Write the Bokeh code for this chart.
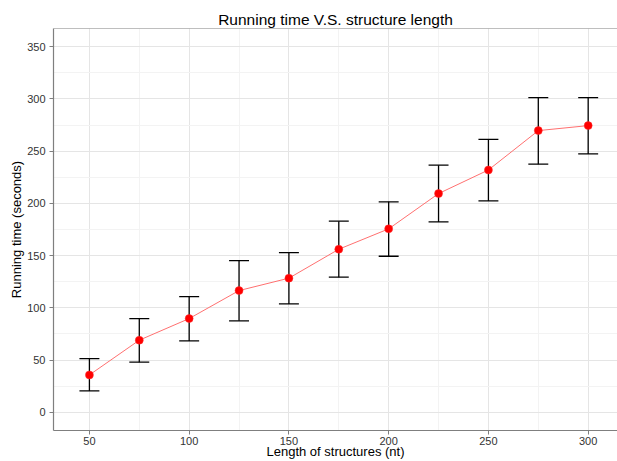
from bokeh.plotting import figure
from bokeh.models import Range1d, SingleIntervalTicker, Span
from bokeh.embed import file_html
from bokeh.resources import INLINE

# Data
lengths = [50, 75, 100, 125, 150, 175, 200, 225, 250, 275, 300]
mean_time = [35.7, 69.0, 89.7, 116.5, 128.4, 156.1, 175.6, 209.4, 232.0, 269.7, 274.5]
upper = [51.3, 89.7, 110.7, 145.2, 152.9, 183.0, 201.5, 236.6, 261.3, 301.3, 301.3]
lower = [20.4, 47.9, 68.3, 87.5, 103.7, 129.3, 149.4, 182.3, 202.4, 237.6, 247.4]
half_cap = 5  # errorbar cap half-width in data units

FONT = "Liberation Sans"

p = figure(width=617, height=461, output_backend="svg", toolbar_location=None,
           x_range=Range1d(32, 314.7), y_range=Range1d(-17.5, 367.5),
           min_border_left=53, min_border_right=0, min_border_top=28, min_border_bottom=31,
           title="Running time V.S. structure length")
p.background_fill_color = "white"
p.border_fill_color = "white"
p.outline_line_color = None

p.title.align = "center"
p.title.offset = 6
p.title.standoff = 2
p.title.text_font = FONT
p.title.text_font_size = "15.5px"
p.title.text_font_style = "normal"
p.title.text_color = "black"

# tickers
p.xaxis.ticker = SingleIntervalTicker(interval=50, num_minor_ticks=2)
p.yaxis.ticker = SingleIntervalTicker(interval=50, num_minor_ticks=2)

# grids
for g in (p.xgrid, p.ygrid):
    g.grid_line_color = "#e5e5e5"
    g.grid_line_width = 1
    g.minor_grid_line_color = "#f3f3f3"
    g.minor_grid_line_width = 1

# axes
for ax in (p.xaxis, p.yaxis):
    ax.axis_line_color = "#7f7f7f"
    ax.axis_line_width = 1.2
    ax.major_tick_line_color = "#7f7f7f"
    ax.major_tick_in = 0
    ax.major_tick_out = 4
    ax.minor_tick_line_color = None
    ax.major_label_text_font = FONT
    ax.major_label_text_font_size = "11px"
    ax.major_label_text_color = "#333333"
    ax.axis_label_text_font = FONT
    ax.axis_label_text_font_size = "13px"
    ax.axis_label_text_font_style = "normal"
    ax.axis_label_text_color = "black"

p.xaxis.axis_label = "Length of structures (nt)"
p.yaxis.axis_label = "Running time (seconds)"
p.xaxis.major_label_standoff = 2
p.xaxis.axis_label_standoff = -4
p.yaxis.major_label_standoff = 4
p.yaxis.axis_label_standoff = 0

# top border of the panel
p.add_layout(Span(location=367.5, dimension="width", line_color="#7f7f7f", line_width=1.2))

# error bars
caps_left = [x - half_cap for x in lengths]
caps_right = [x + half_cap for x in lengths]
p.segment(x0=lengths, y0=lower, x1=lengths, y1=upper, line_color="black", line_width=1.3)
p.segment(x0=caps_left, y0=upper, x1=caps_right, y1=upper, line_color="black", line_width=1.3)
p.segment(x0=caps_left, y0=lower, x1=caps_right, y1=lower, line_color="black", line_width=1.3)

# line and points
p.line(lengths, mean_time, line_color="#ff7070", line_width=1.0)
p.scatter(lengths, mean_time, size=8, fill_color="#ff0000", line_color="#ff3030", line_width=0.5)

open("out.html", "w").write(file_html(p, INLINE))
